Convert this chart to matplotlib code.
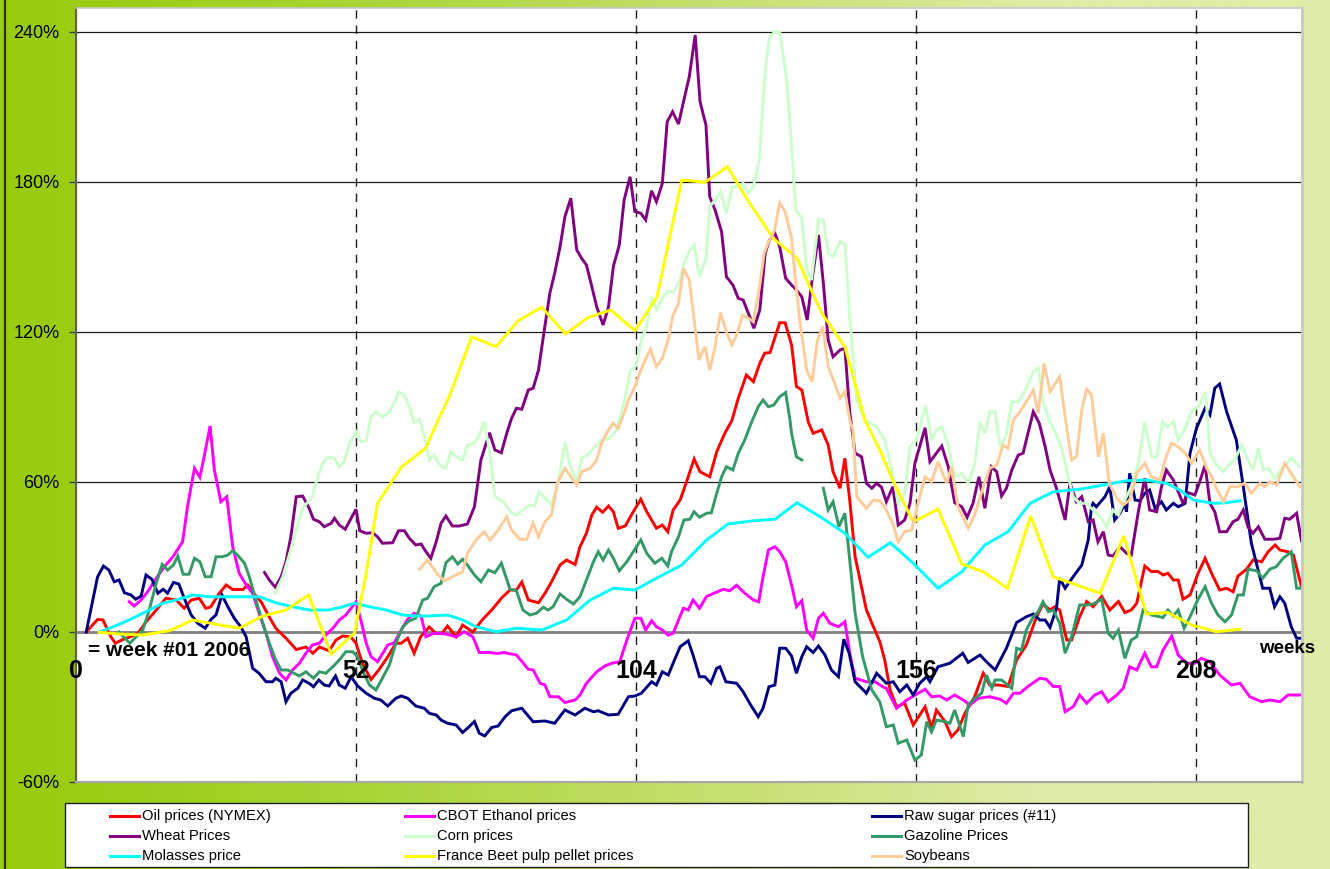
import numpy as np
import matplotlib
matplotlib.use("Agg")
import matplotlib.pyplot as plt
from matplotlib.lines import Line2D
from matplotlib.patches import Rectangle
from matplotlib import font_manager

# ---------------- data (week, % change vs week #01 2006) ----------------
oil = [(1.9,0),(4,5),(5,4.8),(6.5,-2),(7.3,-4.5),(8.7,-3),(10,-2),(11.5,-0.5),(13,4),(14.9,8.8),(16.7,13.5),(18.6,12.8),(20.1,9.5),(21.4,12.8),(22.9,13.5),(24.1,9.5),(25,10),(26.6,15.5),(27.9,18.8),(29.1,17),(31,17),(31.9,18.8),(32.8,16),(34.4,12),(35.9,6),(37.1,1.5),(39,-2.5),(40.9,-7),(42.7,-6),(44,-8.5),(45.2,-6),(47,-7.5),(48.3,-3.2),(49.5,-1.6),(51,-1.9),(52,-4.5),(53.2,-12.5),(54.8,-19),(56.3,-15),(57.9,-9.9),(59.4,-4.5),(60.4,-4.5),(61.6,-2.5),(62.8,-8.5),(64,-1.9),(65.6,2),(66.8,-0.5),(68,-0.5),(69,2.4),(70.6,-1.9),(71.8,2.8),(73.7,0),(75.5,5),(77.2,8.8),(79,13.5),(80.6,16.8),(81.8,16.8),(82.8,20),(84,12.8),(85.9,11.7),(87.1,15.5),(88.3,20),(89.9,26.8),(91.1,28.8),(92.7,27),(93.6,34.1),(94.8,39.5),(95.8,46.8),(96.7,49.9),(97.8,47.9),(98.9,50.4),(99.8,48.1),(100.7,41.5),(102,42.4),(103.5,48.1),(104.9,53.1),(106,48.1),(107.8,41.5),(108.9,42.8),(109.9,40.1),(110.9,48.8),(112.2,52.8),(113.4,60.1),(114.8,69.2),(115.9,64.1),(117.7,62.1),(119,72.1),(120.5,79.5),(121.8,84.5),(123,93.5),(124.5,102.8),(125.8,100.1),(127,107.5),(127.9,111.5),(128.9,111.8),(130.7,123.7),(131.7,123.7),(132.9,114.8),(133.8,98.2),(134.8,96.8),(136,84),(136.9,79.5),(138.5,80.8),(139.7,74.8),(140.6,64.1),(141.9,57.5),(142.8,69.5),(143.7,52.8),(144.7,30.1),(146.8,8.8),(148.1,2.1),(149.3,-3.9),(150.2,-11.2),(151.2,-23.2),(152.4,-29.9),(153.9,-28.5),(155.5,-37.2),(157.7,-29.9),(158.9,-38.5),(159.8,-31.2),(161.4,-35.8),(162.6,-41.9),(163.8,-39.2),(165.1,-32.5),(166.9,-25.9),(168.5,-16.5),(169.7,-21.2),(171.3,-21.2),(173.1,-21.8),(174.7,-11.2),(176.5,-5.2),(178.4,6.1),(179.6,11.2),(180.9,8.8),(181.8,10.1),(182.7,8.8),(184,-3.2),(184.9,-3.2),(186.4,6.1),(187.7,12.2),(188.9,10.1),(190.5,14.2),(192,8.8),(193.6,12.2),(194.8,7.8),(196,8.8),(197,11.5),(198.5,26.4),(199.7,24.2),(201,24.2),(201.9,22.8),(202.8,23.5),(203.8,20.8),(204.7,20.8),(205.6,13.1),(206.9,14.8),(208.4,23.5),(209.7,29.5),(210.9,23.5),(212.4,16.8),(213.7,17.5),(214.9,16.1),(215.8,22.4),(217.4,25.1),(218.6,28.8),(220.2,28.1),(221.4,32.1),(222.7,34.8),(223.6,32.8),(225.1,32.1),(226.1,30.8),(227.6,18.1)]

ethanol = [(9.9,12.1),(10.8,10.4),(12.1,12.8),(13.3,16.1),(14.9,21.5),(16.4,26.1),(18,30.1),(19.8,36.1),(20.7,50.1),(22,65.5),(23,61.9),(23.8,70.1),(24.9,82.4),(25.7,64.8),(26.9,52.1),(28,54.1),(29.1,34.1),(30.3,23.5),(31.6,18.8),(32.8,15.5),(34,7.5),(35.3,-0.5),(36.5,-9.9),(37.8,-16.5),(39,-19.2),(40.2,-15.2),(41.5,-12.5),(42.7,-8.5),(43.9,-5.2),(45.2,-4.5),(46.4,-1.2),(47.7,1.5),(48.9,4.8),(50.1,6.8),(51.1,9.5),(52,12.1),(52.9,4.8),(53.9,-4.5),(54.8,-9.9),(56,-11.9),(57.9,-5.2),(59.1,-4.3),(60.4,0.8),(61.6,5.1),(62.8,7.5),(64.1,6.4),(65,-1.9),(66.5,-0.5),(68.7,-0.8),(70.6,-1.9),(72.1,0.1),(73.7,-1.9),(74.9,-8.2),(76.8,-8.2),(78.4,-8.6),(79.4,-8.2),(81.8,-9.2),(84,-14.9),(84.9,-15.2),(86.2,-20.5),(87.1,-21.2),(88,-25.9),(89.6,-25.9),(90.8,-28.2),(92.7,-27.2),(93.6,-25.2),(94.8,-20.5),(96.7,-15.9),(98.2,-13.6),(99.5,-12.5),(101,-11.9),(102.3,-3.2),(103.8,5.5),(104.9,5.5),(105.8,0.8),(106.9,4.5),(107.8,2.1),(108.9,0.8),(110,-1.3),(110.9,-0.5),(112.8,9.5),(113.7,8.8),(114.6,12.8),(115.8,9.5),(117.1,14.2),(118.7,15.7),(120.2,17.1),(121.4,16.5),(122.7,18.7),(123.9,16.1),(125.8,12.8),(126.8,12.1),(127.6,22.1),(128.6,32.8),(129.8,34.1),(130.7,32.1),(131.8,28.1),(132.9,18.8),(133.8,10.1),(134.8,12.5),(135.7,0.8),(136.9,-2.5),(137.9,5.5),(138.8,7.5),(140,3.5),(141.6,2.1),(142.8,4.1),(143.7,-8.5),(144.7,-18.5),(146.8,-19.9),(148.4,-19.9),(149.9,-22),(150.5,-22.5),(152.4,-30.5),(154.3,-27.2),(156.4,-24.5),(157.7,-22.9),(158.9,-25.9),(160.4,-25.6),(161.7,-27.2),(163.2,-25.2),(164.8,-27.2),(166,-29.2),(167.6,-26.5),(169.7,-25.9),(171.6,-26.9),(172.8,-28.5),(174.1,-24.5),(175.3,-24.5),(176.8,-21.8),(179,-18.5),(180.2,-18.9),(181.5,-21.8),(182.7,-21.8),(183.7,-31.9),(185.2,-29.9),(186.4,-25.2),(187.7,-28.5),(189.2,-25.2),(190.5,-23.9),(191.7,-27.9),(193.3,-25.2),(194.5,-22.5),(195.7,-13.9),(197,-15.2),(198.5,-8.5),(199.7,-13.9),(200.7,-13.9),(201.9,-7.2),(203.5,-1.6),(204.7,-9.2),(206.3,-12.5),(207.8,-12.5),(209,-10.5),(210.6,-11.9),(212.4,-17.2),(214.6,-21.2),(216.2,-20.5),(218,-25.9),(220.2,-27.9),(221.7,-27.2),(223.6,-27.9),(225.1,-25.2),(227.6,-25.2)]

sugar = [(1.9,0),(4,22),(5.1,26.4),(6.1,24.8),(7.1,20.1),(8,20.8),(9,15.7),(10.2,14.8),(11.1,13.1),(12.1,14.4),(13,22.8),(14.1,21.1),(15.2,15.5),(16.2,17.1),(17,15.5),(18.1,19.8),(19.1,19.2),(20.1,13.5),(21.4,6.8),(22.6,3.5),(24,1.5),(25.1,5.1),(26,6.8),(27.1,14.8),(28.2,10.1),(29.4,5.5),(30.6,2.1),(31.6,-1.9),(32.8,-14.5),(34,-16.5),(35.3,-19.9),(36.5,-19.9),(37.1,-18.5),(38.1,-19.9),(39,-27.9),(39.9,-24.5),(41.2,-22.5),(42.1,-19.2),(43.3,-20.5),(44.1,-21.9),(45.1,-19.2),(46.1,-21.2),(47,-21.6),(48.2,-17.6),(48.9,-21.2),(50,-22.5),(51.1,-17.9),(52.3,-21.6),(53.9,-24.5),(55.4,-26.5),(56.6,-27.2),(57.9,-29.6),(59.4,-26.5),(60.4,-25.6),(61.6,-26.5),(63.1,-29.6),(64.7,-30.5),(65.6,-32.5),(66.9,-33.2),(67.8,-35.2),(69,-36.5),(70.6,-37.2),(71.8,-40.2),(72.7,-38.5),(74,-35.8),(74.9,-40.5),(75.9,-41.6),(77.2,-38.2),(78.4,-37.6),(79.7,-33.9),(80.9,-31.5),(82.8,-30.5),(84.9,-35.9),(87.1,-35.6),(88.9,-36.5),(90.8,-31.2),(92.7,-33.2),(94.5,-30.5),(96.1,-31.9),(97,-31.5),(98.9,-33.2),(100.7,-32.9),(102.6,-25.9),(103.8,-25.6),(105,-24.5),(106.9,-19.9),(107.8,-21.2),(108.9,-15.9),(110,-17.2),(110.9,-12.5),(112.2,-5.9),(113.7,-3.5),(114.6,-9.2),(115.8,-17.9),(116.8,-17.9),(117.9,-20.5),(119,-14.5),(119.6,-13.9),(120.7,-19.9),(122.7,-20.5),(123.9,-23.9),(125.2,-28.8),(126.7,-33.9),(127.6,-30.5),(128.7,-21.9),(129.8,-21.2),(130.7,-6.5),(131.8,-6.5),(132.9,-9.6),(133.8,-16.5),(134.8,-9.9),(135.7,-5.9),(136.9,-8.2),(137.9,-5.6),(139.1,-9.2),(140.3,-15.2),(141.6,-17.9),(142.6,-2.9),(143.6,-8.5),(144.7,-19.9),(146.8,-24.5),(148.7,-16.5),(150.5,-20.5),(151.8,-19.9),(153,-23.9),(154.3,-21.2),(155.5,-25.2),(156.7,-20.5),(158,-17.9),(158.6,-19.9),(160.1,-13.9),(162.3,-12.5),(163.5,-10.5),(164.7,-8.5),(165.7,-12.2),(167.9,-9.2),(169.1,-11.9),(170.7,-15.2),(172.8,-6.5),(174.7,3.8),(176.5,6.1),(177.8,7.2),(179,4.8),(180,4.8),(180.9,1.8),(182.1,9.5),(182.7,21.5),(183.7,17.5),(185.2,22.1),(186.8,26.8),(188,36.8),(188.6,50.1),(188.9,51.5),(189.5,50.1),(191.1,54.1),(192,58.1),(192.9,44.8),(193.9,47.5),(194.8,51.5),(195.1,48.1),(195.7,63.5),(196.7,52.8),(197.6,52.5),(198.5,55.5),(199.4,56.8),(200.4,49.5),(201.6,52.1),(202.5,48.8),(203.8,51.5),(204.7,50.1),(206,51.5),(206.9,71.5),(208.1,81.5),(209.7,89.5),(210.6,86.8),(211.5,97.5),(212.4,99.2),(213.7,88.1),(215.5,76.8),(216.8,58.1),(218.3,35.5),(220.4,17.5),(221.7,17.5),(222.6,10.1),(223.6,14.1),(224.5,11.5),(225.7,2.1),(226.7,-2.5),(227.6,-2.5)]

wheat = [(35,23.8),(35.9,20.8),(37,17.9),(38.1,22.1),(39,28.1),(39.9,38.1),(40.9,54.1),(42.1,54.4),(43.3,49.5),(44.1,45.1),(45.2,44.1),(46.1,42.1),(47.4,43.5),(48,45.5),(48.9,42.8),(50,41.1),(51.1,45.5),(52,49.1),(52.7,40.5),(53.9,39.5),(55.1,39.7),(56,38.1),(56.9,35.5),(58.8,35.7),(59.9,40.5),(61,40.5),(61.9,37.5),(63.1,34.8),(64.1,35.2),(65,32.1),(65.9,29.5),(66.9,36.1),(67.8,43.5),(68.7,46.4),(69.9,42.4),(71.2,42.4),(72.7,43.2),(74,50.1),(75.2,68.8),(76.8,79.7),(77.8,72.8),(79,71.7),(80,79.5),(80.9,85.5),(81.8,89.5),(82.8,89.1),(84,96.8),(84.9,97.5),(85.9,104.8),(86.8,118.2),(88,135.5),(88.9,143.5),(89.9,154.1),(90.8,166.1),(91.9,173.5),(93,152.8),(93.9,149.5),(94.8,146.8),(95.8,138.2),(96.7,130.1),(97.9,122.8),(98.9,130.1),(99.8,146.2),(100.9,154.8),(101.8,172.8),(102.9,182.1),(103.8,168.2),(104.9,167.5),(105.8,164.8),(106.9,176.5),(107.8,172.1),(108.9,179.5),(109.8,204.1),(110.8,208.1),(111.9,203.2),(112.9,212.8),(113.9,222.1),(115,238.8),(115.9,212.1),(117,202.8),(117.7,174.1),(118.7,168.8),(119.9,160.1),(120.8,142.1),(122,138.8),(123,133.5),(123.9,132.8),(125,126.8),(125.9,121.5),(127,128.8),(128,151.5),(128.8,156.8),(129.8,159.5),(130.7,154.1),(131.8,141.5),(132.9,138.8),(133.8,136.8),(134.8,134.1),(135.8,124.8),(136.7,140.8),(137.9,158.8),(138.8,139.5),(139.7,116.8),(140.6,110.1),(141.9,112.8),(142.8,113.5),(143.7,88),(144.7,71.5),(145.9,70.1),(146.8,59.5),(147.8,57.5),(148.7,59.5),(149.6,57.9),(150.5,52.1),(151.7,58.1),(152.7,42.8),(153.9,44.8),(154.9,51.5),(155.8,67.5),(157.7,81.7),(158.6,68.1),(160.8,74.4),(162,66.1),(163.2,51.7),(164.5,50.1),(165.5,45.9),(166.6,51.5),(167.7,62.1),(168.8,49.5),(170,66.1),(171,64.1),(171.9,54.4),(172.8,57.5),(173.8,64.8),(175,70.8),(175.9,71.5),(176.8,79.5),(177.8,88.1),(178.9,83.5),(180,74.1),(180.9,64.8),(182.1,57.5),(183.7,44.8),(184.6,59.7),(185.8,52.1),(186.8,54.1),(188,44.1),(188.9,44.8),(189.8,36.1),(190.8,40.1),(191.7,30.8),(192.6,30.4),(193.9,34.1),(195.1,31.5),(196,30.8),(197.3,48.1),(198.5,61.5),(199.4,48.8),(200.7,48.1),(201.6,58.1),(202.5,64.8),(203.8,60.8),(204.7,56.1),(205.6,51.5),(206.6,55.7),(207.8,54.8),(208.7,60.1),(209.7,66.8),(210.6,51.5),(211.5,48.1),(212.4,40.1),(213.7,40.1),(214.9,44.1),(215.8,45.1),(216.8,48.8),(217.7,41.9),(218.6,39.5),(219.6,42.1),(220.8,37.1),(222.4,37.1),(223.6,37.5),(224.5,45.5),(225.4,45.1),(226.7,47.5),(227.6,36.5)]

corn = [(37,15.5),(38.4,22.1),(39.6,30.8),(40.9,40.8),(42.1,49.5),(43.9,54.1),(44.9,62.1),(45.8,67.5),(46.7,69.9),(48,69.5),(48.9,66.1),(49.8,68.1),(50.8,75.5),(52,80.1),(52.9,76.1),(53.9,76.4),(54.8,86.1),(55.7,88.1),(56.9,85.9),(58.2,88.1),(59.1,91.5),(59.9,96.1),(61,94.8),(61.9,90.1),(62.8,83.7),(63.8,85.1),(64.7,78.1),(65.6,68.8),(66.5,70.8),(67.5,66.8),(68.7,65.5),(69.6,72.1),(70.6,70.1),(71.8,68.8),(72.7,74.8),(74,75.5),(74.9,78.8),(75.8,84.1),(76.8,72.8),(77.8,54.1),(79.4,52.1),(80.9,47.5),(81.8,46.8),(83,48.8),(84.3,50.8),(85.2,50.4),(86,56.1),(87.4,52.8),(88.3,50.8),(89.6,60.1),(90.8,76.1),(91.7,66.8),(93,60.1),(93.9,69.5),(94.8,70.4),(96.4,74.1),(97.6,76.8),(99.2,77.5),(100.4,80.8),(101.9,92.8),(102.9,104.1),(104.1,106.8),(105,116.8),(106,122.1),(106.9,134.1),(107.8,128.8),(108.9,133.5),(110,136.5),(110.9,135.8),(112.2,140.8),(112.8,146.8),(113.7,151.5),(114.8,154.8),(115.8,142.1),(117,149.5),(117.7,170.1),(118.7,172.8),(119.7,176.1),(120.8,167.5),(121.9,178.1),(123,178.1),(123.9,179.5),(124.8,175.5),(125.8,178.1),(126.9,188.8),(128,224.8),(128.8,237.9),(129.8,240.1),(130.7,240.1),(132,220.8),(132.9,194.1),(133.7,168.8),(134.8,165.5),(135.7,144.8),(136.6,140.8),(137.9,165.1),(138.8,164.8),(139.7,151.5),(140.6,150.1),(141.9,156.1),(142.8,155.2),(143.7,126.1),(145,92.8),(146.5,84.8),(148.7,82.1),(150.2,76.8),(151.8,62.1),(152.7,51.5),(153.9,55.5),(154.9,74.1),(156.1,76.8),(157.8,90.8),(158.9,76.8),(159.8,80.8),(160.8,82.1),(162,74.8),(163.2,62.1),(164.5,63.5),(165.7,59.5),(166.9,66.8),(167.9,84.1),(168.8,79.5),(169.7,88.1),(170.7,88.1),(171.6,74.1),(172.7,78.1),(173.8,92.1),(175,92.1),(176.5,97.5),(177.8,104.1),(178.7,105.8),(179.6,92.1),(180.9,84.1),(182.1,78.8),(183,74.1),(184,64.8),(185.2,54.1),(186.4,51.5),(187.7,51.5),(188.9,48.8),(190.2,46.1),(191.4,42.1),(192.6,48.8),(193.6,46.8),(194.5,51.5),(196,58.1),(197.3,67.5),(198.5,84.1),(199.7,70.1),(200.7,70.1),(201.8,84.1),(202.7,82.1),(203.8,84.1),(204.7,76.8),(206,81.5),(207.2,88.1),(208.4,90.1),(209.8,96.1),(210.6,71.5),(211.8,66.8),(213.1,64.1),(214,66.8),(215.2,68.8),(216.5,74.8),(217.4,70.1),(218.6,64.8),(219.6,73.5),(220.5,64.8),(221.4,65.5),(222.7,61.5),(224.2,66.1),(225.7,69.5),(227.3,66.1)]

gazoline = [(8,0),(10,-4.5),(11.5,-1.2),(12.4,0.8),(13.6,8.8),(14.9,19.5),(16,27.1),(17,24.8),(18.1,26.8),(18.9,30.4),(19.9,23.1),(21,23.1),(22,29.5),(23,28.1),(24,22.1),(25.1,22.1),(26,30.1),(27.2,30.1),(28.2,30.8),(29.1,32.5),(30,30.8),(31.3,27.5),(32.2,22.1),(33.4,12.8),(34.7,3.5),(35.9,-4.5),(37.1,-11.2),(38.1,-15.2),(39.3,-15.2),(40.5,-16.5),(41.5,-17.6),(42.7,-15.9),(44.1,-18.5),(45.2,-15.9),(46.4,-16.5),(47.7,-13.9),(48.9,-11.2),(50.1,-7.9),(51.4,-7.9),(52.3,-9.9),(53.2,-15.2),(54.5,-21.2),(55.7,-23.2),(56.9,-18.5),(58.2,-13.2),(59.4,-4.5),(60.7,2.1),(61.9,4.5),(63.1,5.5),(64.4,12.8),(65.3,13.5),(66.5,18.1),(67.8,19.5),(68.7,27.7),(69.9,30.1),(70.9,27.2),(71.8,29.1),(72.7,26.8),(74,22.8),(75.2,20.1),(76.6,24.8),(77.8,23.7),(79,27.5),(80.6,17.1),(81.8,16.5),(83,8.8),(84.3,6.8),(85.5,7.5),(86.8,9.9),(87.7,8.8),(88.6,10.1),(89.9,15.2),(91.1,13.1),(92.4,11.2),(93.6,14.1),(94.8,20.8),(96.1,28.1),(97,32.1),(97.9,28.8),(98.9,32.8),(99.8,29.5),(100.9,24.5),(102.3,28.1),(103.5,32.1),(104.9,36.8),(106,31.5),(107.5,27.5),(108.8,29.5),(109.9,26.4),(110.6,32.1),(111.9,38.1),(112.9,44.8),(114,45.1),(114.8,48.1),(115.8,45.9),(117.1,47.5),(118,47.7),(119,55.5),(119.9,62.1),(120.8,66.1),(122,64.8),(123,71.5),(124.2,76.8),(125.5,84.1),(126.7,90.1),(127.6,92.8),(128.6,90.1),(129.6,90.8),(130.7,94.1),(131.8,95.8),(132.6,84.8),(132.9,79.5),(133.8,70.1),(134.8,68.8),(136.8,None),(138.8,57.5),(139.7,48.8),(140.6,52.1),(141.7,42.1),(142.8,47.5),(143.7,28.8),(144.7,7.5),(146.1,-9.9),(147.8,-23.2),(149.3,-28),(150.5,-37.9),(151.8,-37.2),(152.7,-44.5),(154.3,-43.2),(155.8,-51.2),(157,-49.2),(158,-35.9),(158.9,-39.9),(159.8,-35.2),(161.4,-35.9),(162.3,-36.5),(163.2,-31.2),(164.8,-41.9),(165.7,-29.2),(166.9,-26.5),(168.2,-24.5),(169.1,-17.2),(170.1,-22.5),(170.7,-19.2),(171.9,-19.2),(173.8,-22.5),(174.7,-6.5),(175.6,-7.2),(176.5,0.8),(177.8,6.1),(178.7,8.1),(179.6,12.1),(180.6,8.1),(181.5,8.8),(182.7,3.5),(183.7,-8.5),(184.9,-1.9),(186.4,10.8),(187.7,10.8),(188.9,11.2),(190.5,13.1),(191.7,-0.5),(192.6,-2.5),(193.6,0.8),(194.8,-10.5),(196,-3.2),(197,-1.9),(198.2,8.8),(199.7,6.8),(201.9,5.8),(202.8,8.8),(203.8,6.4),(204.7,8.8),(205.8,1.5),(206.9,6.1),(208.4,13.1),(209.7,18.1),(210.9,11.5),(212.1,6.8),(213.4,4.1),(214.6,6.8),(215.8,14.8),(216.8,14.8),(217.7,25.1),(219.3,24.5),(220.4,21.5),(221.7,25.1),(222.9,26.1),(224.2,29.5),(225.7,32.1),(226.7,17.5),(227.6,17.5)]

molasses = [(4.3,0),(6.2,1.5),(8.7,3.7),(11.1,6.1),(13.6,8.8),(16.1,11.5),(18.6,12.8),(21.7,14.8),(24.8,14.1),(27.9,14.1),(31,14.1),(34,14.1),(37.1,11.7),(40.2,10.1),(43.3,8.8),(47,8.8),(49.5,10.1),(51.7,11.5),(54.5,10.1),(57.6,8.8),(60.7,6.8),(63.1,6.4),(65.6,6.4),(69,6.8),(71.8,4.8),(74.3,2.1),(78.1,0.1),(81.8,1.5),(86.5,0.8),(91.1,4.8),(95.5,12.8),(99.8,17.5),(103.8,16.8),(107.8,21.5),(112.5,26.8),(117.1,36.8),(121.1,43.2),(125.8,44.5),(129.8,45.1),(133.9,51.7),(138.2,46.1),(142.8,39.5),(147.1,29.9),(151.2,35.7),(155.5,27.5),(160.1,17.5),(164.5,24.1),(168.8,34.8),(173.1,40.1),(177.2,51.5),(181.5,56.1),(186.4,57.1),(190.8,58.8),(195.1,60.5),(198.8,60.8),(202.5,59.5),(205,56.8),(207.5,52.8),(211.2,51.5),(213.7,51.7),(216.2,52.5)]

beet_pulp = [(4.3,-0.1),(8,-0.8),(12.4,-1.2),(17.3,0.5),(21.7,4.8),(26,3.1),(30.3,1.5),(34.7,6.4),(39,8.8),(43.2,14.8),(47.4,-8.9),(51.7,-0.5),(53.9,23.5),(56,51.5),(60.4,65.9),(64.9,73.5),(67.2,84.5),(69.3,94.1),(73.5,118.1),(78,114.1),(82.1,124.5),(86.5,129.9),(90.9,119.2),(95.1,125.8),(99.3,128.8),(103.8,120.5),(107.9,133.9),(112.5,180.8),(116.8,179.9),(121,186.1),(124.5,173.5),(129.5,157.5),(133.9,149.5),(138.5,127.5),(142.8,114.1),(146.5,84.8),(149.3,72.8),(151.8,60.1),(155.5,44.1),(160.1,49.1),(164.5,27.2),(168.5,24.1),(173,17.5),(177.3,46.4),(181.5,22.1),(190.2,15.5),(194.6,38.4),(198.8,7.2),(202.8,7.8),(207.2,2.8),(211.8,0.1),(216.2,1.1)]

soybeans = [(63.8,25.1),(65.3,28.8),(66.9,23.7),(68.4,20.4),(69.9,22.1),(71.8,24.1),(72.7,31.5),(74.3,36.8),(75.8,40.1),(76.9,36.8),(78.4,40.8),(80,46.1),(80.9,40.8),(82.4,37.1),(83.7,37.1),(84.9,43.5),(85.9,38.1),(87.1,44.1),(88.3,46.8),(89.4,59.5),(90.8,65.5),(91.7,62.8),(93,58.8),(93.9,64.1),(95.5,65.5),(96.7,68.8),(97.6,75.5),(98.9,80.8),(99.8,83.5),(100.7,81.5),(101.9,88.1),(102.6,92.8),(103.8,98.2),(104.7,103.5),(105.7,108.8),(106.7,113.1),(107.8,106.1),(108.9,109.5),(110,117.1),(110.8,126.1),(111.9,131.5),(112.8,145.5),(113.9,140.8),(114.8,124.8),(115.7,108.8),(116.8,114.1),(117.7,104.8),(118.7,114.1),(119.7,127.8),(120.8,120.1),(121.8,114.8),(122.7,118.8),(123.8,126.8),(124.9,125.5),(125.8,124.1),(127,138.8),(127.8,151.5),(128.6,155.8),(129.7,160.5),(130.7,171.7),(131.7,168.1),(132.9,157.5),(133.5,143.5),(134.4,124.8),(135.7,104.8),(136.7,100.1),(137.7,116.8),(138.7,122.1),(139.7,106.1),(141,98.8),(141.9,93.5),(142.8,96.2),(143.7,84.8),(144.3,80.8),(145,54.1),(146.8,49.5),(148.1,52.8),(149.3,52.5),(150.5,48.8),(151.8,42.8),(152.7,36.1),(153.9,40.1),(155.2,40.8),(156.4,51.5),(157.7,62.1),(158.9,60.1),(160.1,68.1),(161.7,59.5),(162.6,66.1),(163.8,50.1),(165.7,41.5),(166.9,46.8),(168.5,58.1),(169.7,65.5),(171,66.8),(172.2,74.8),(173.1,73.5),(174.1,84.8),(175.3,88.1),(176.5,92.1),(177.8,96.8),(178.7,87.5),(179.8,107.5),(180.9,96.1),(182.7,102.1),(183.7,86.1),(184.9,68.8),(185.8,70.1),(186.8,88.8),(187.7,97.1),(188.6,94.8),(189.9,70.1),(190.8,79.5),(191.9,59.5),(193.3,53.5),(194.5,50.8),(195.7,52.8),(197,63.5),(198.5,67.5),(199.7,62.1),(201.3,60.8),(202.5,70.4),(203.5,75.5),(204.7,74.1),(206,71.5),(207.2,67.5),(208.7,72.8),(210,65.5),(210.9,62.1),(211.8,57.5),(213.1,52.1),(214.3,58.1),(215.8,58.1),(217.1,59.5),(218.3,55.5),(219.9,59.5),(220.8,58.1),(221.7,60.1),(223,58.8),(224.5,67.5),(225.7,63.5),(227.3,58.1)]

series_names = ["Oil prices (NYMEX)", "CBOT Ethanol prices", "Raw sugar prices (#11)",
                "Wheat Prices", "Corn prices", "Gazoline Prices",
                "Molasses price", "France Beet pulp pellet prices", "Soybeans"]
series_data = [oil, ethanol, sugar, wheat, corn, gazoline, molasses, beet_pulp, soybeans]
series_colors = ["#FF0000", "#FF00FF", "#000080", "#800080", "#CCFFCC", "#339966",
                 "#00FFFF", "#FFFF00", "#FFCC99"]

y_ticks = [-60, 0, 60, 120, 180, 240]
week_marks = [52, 104, 156, 208]
week_labels = [0, 52, 104, 156, 208]

# ---------------- fonts ----------------
avail = {f.name for f in font_manager.fontManager.ttflist}
BASE = "Liberation Sans" if "Liberation Sans" in avail else "DejaVu Sans"
if "Liberation Sans Narrow" in avail:
    NARROW, LEG_FS = "Liberation Sans Narrow", 12
else:
    NARROW, LEG_FS = BASE, 10.6
plt.rcParams["font.family"] = [BASE, "DejaVu Sans"]

W, H = 1330, 869
fig = plt.figure(figsize=(W / 100, H / 100), dpi=100)

# background gradient
bg = fig.add_axes([0, 0, 1, 1], zorder=-10)
xs = np.linspace(0, 1, 600)
t = np.clip(xs / 0.78, 0, 1) ** 1.25
c_left = np.array([152, 204, 14]) / 255.0
c_right = np.array([222, 236, 168]) / 255.0
grad = c_left[None, :] + (c_right - c_left)[None, :] * t[:, None]
bg.imshow(grad[None, :, :], aspect="auto", extent=[0, 1, 0, 1])
bg.set_xlim(0, 1); bg.set_ylim(0, 1)
bg.set_axis_off()
fig.add_artist(Line2D([5 / W, 5 / W], [0, 1], transform=fig.transFigure,
                      color="#2a2a2a", lw=1.6))

# main axes
ax = fig.add_axes([76 / W, 1 - 782 / H, (1302 - 76) / W, (782 - 8) / H])
ax.set_facecolor("white")
ax.set_xlim(0, 227.7)
ax.set_ylim(-60, 249.6)

for v in y_ticks[2:]:
    ax.axhline(v, color="#1a1a1a", lw=0.9, zorder=1)
ax.axhline(0, color="#808080", lw=2.0, zorder=1)
for w in week_marks:
    ax.axvline(w, color="#1a1a1a", lw=1.0, ls=(0, (6, 5)), zorder=1)

for name, data, col in zip(series_names, series_data, series_colors):
    wk = np.array([p[0] for p in data], dtype=float)
    val = np.array([np.nan if p[1] is None else p[1] for p in data], dtype=float)
    ax.plot(wk, val, color=col, lw=2.1, zorder=2, solid_joinstyle="miter")

ax.set_xticks([])
ax.set_yticks(y_ticks)
ax.set_yticklabels([f"{v}%" for v in y_ticks], fontsize=13, family=BASE)
ax.tick_params(axis="y", direction="out", length=5, width=1, color="#404040", pad=7)
ax.spines["left"].set_color("#606060"); ax.spines["left"].set_linewidth(1.6)
ax.spines["bottom"].set_color("#A8A8A8"); ax.spines["bottom"].set_linewidth(1.6)
ax.spines["top"].set_color("#C8C8C8"); ax.spines["top"].set_linewidth(1.2)
ax.spines["right"].set_color("#C8C8C8"); ax.spines["right"].set_linewidth(2.0)

for w in week_labels:
    ax.text(w, -15.5, str(w), ha="center", va="center", fontsize=18,
            fontweight="bold", family=BASE, zorder=4, clip_on=False)
ax.text(2.2, -7.3, "= week #01 2006", ha="left", va="center", fontsize=15,
        fontweight="bold", family=BASE, zorder=4)
ax.text(225.0, -6.5, "weeks", ha="center", va="center", fontsize=13.5,
        fontweight="bold", family=BASE, zorder=4, clip_on=False)

# legend (row-major as in the original)
fig.add_artist(Rectangle((65 / W, 1 - 867 / H), (1248 - 65) / W, (867 - 803) / H,
                         transform=fig.transFigure, facecolor="white",
                         edgecolor="#202020", lw=1.0, zorder=5))
col_x = [110, 405, 872]
row_y = [816, 836, 856]
for i, (name, col) in enumerate(zip(series_names, series_colors)):
    r, c = divmod(i, 3)
    x0 = col_x[c]; y0 = row_y[r]
    fig.add_artist(Line2D([x0 / W, (x0 + 29) / W], [1 - y0 / H, 1 - y0 / H],
                          transform=fig.transFigure, color=col, lw=2.2, zorder=6))
    fig.text((x0 + 32) / W, 1 - y0 / H, name, ha="left", va="center",
             fontsize=LEG_FS, family=NARROW, zorder=6)

fig.savefig("out.png", dpi=100)
